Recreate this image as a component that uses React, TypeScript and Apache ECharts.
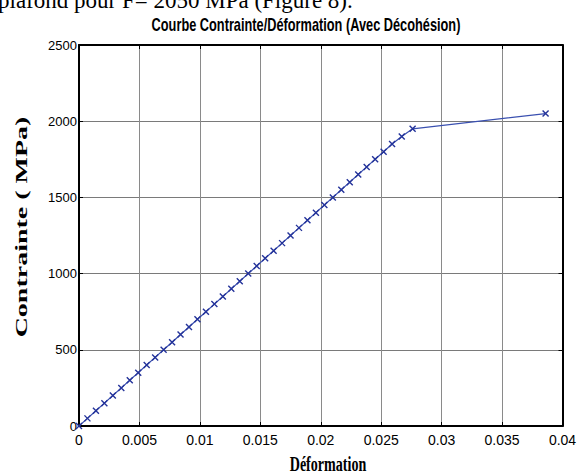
import React, { useEffect, useRef } from "react";
import * as echarts from "echarts";

const strain = [
  0, 0.0007, 0.0014, 0.0021, 0.0028, 0.0035, 0.0042, 0.0049, 0.0056, 0.0063,
  0.007, 0.0077, 0.0084, 0.0091, 0.0098, 0.0105, 0.0112, 0.0119, 0.0126, 0.0133,
  0.014, 0.0147, 0.0154, 0.0161, 0.0168, 0.0175, 0.0182, 0.0189, 0.0196, 0.0203,
  0.021, 0.0217, 0.0224, 0.0231, 0.0238, 0.0245, 0.0252, 0.0259, 0.0267, 0.0276,
  0.0386,
];
const stress = [
  0, 50, 100, 150, 200, 250, 300, 350, 400, 450,
  500, 550, 600, 650, 700, 750, 800, 850, 900, 950,
  1000, 1050, 1100, 1150, 1200, 1250, 1300, 1350, 1400, 1450,
  1500, 1550, 1600, 1650, 1700, 1750, 1800, 1850, 1900, 1950,
  2050,
];

const titleText = "Courbe Contrainte/Déformation (Avec Décohésion)";
const xName = "Déformation";
const yName = "Contrainte ( MPa)";
const pageText = "plafond pour F= 2050 MPa (Figure 8).";

const SANS = "'Liberation Sans', Arial, sans-serif";
const SERIF = "'Liberation Serif', 'Times New Roman', serif";

export default function App() {
  const ref = useRef<HTMLDivElement>(null);
  useEffect(() => {
    if (!ref.current) return;
    const chart = echarts.init(ref.current, null, { renderer: "svg" });
    const data = strain.map((s, i) => [s, stress[i]]);
    const axisCommon = {
      min: 0,
      axisLine: { show: true, onZero: false, lineStyle: { color: "#000", width: 2 } },
      axisTick: { show: true, inside: true, length: 4, lineStyle: { color: "#000", width: 1 } },
    };
    chart.setOption({
      animation: false,
      backgroundColor: "#fff",
      grid: { left: 79, right: 17.5, top: 45, bottom: 49, containLabel: false },
      xAxis: [
        {
          ...axisCommon,
          type: "value",
          position: "bottom",
          max: 0.04,
          interval: 0.005,
          axisLabel: { color: "#000", fontFamily: SANS, fontSize: 14, margin: 7 },
          splitLine: { show: true, lineStyle: { color: "#8a8a8a", width: 1 } },
        },
        {
          ...axisCommon,
          type: "value",
          position: "top",
          max: 0.04,
          interval: 0.005,
          axisLabel: { show: false },
          splitLine: { show: false },
        },
      ],
      yAxis: [
        {
          ...axisCommon,
          type: "value",
          position: "left",
          max: 2500,
          interval: 500,
          axisLabel: {
            color: "#000",
            fontFamily: SANS,
            fontSize: 13,
            margin: 2,
            formatter: (v: number) => String(v),
          },
          splitLine: { show: true, lineStyle: { color: "#7a7a7a", width: 1 } },
        },
        {
          ...axisCommon,
          type: "value",
          position: "right",
          max: 2500,
          interval: 500,
          axisLabel: { show: false },
          splitLine: { show: false },
        },
      ],
      series: [
        {
          type: "line",
          xAxisIndex: 0,
          yAxisIndex: 0,
          data,
          symbol: "path://M0,0L10,10M10,0L0,10",
          symbolSize: 6,
          showSymbol: true,
          lineStyle: { color: "#3a50b0", width: 1.2 },
          itemStyle: { color: "transparent", borderColor: "#24339a", borderWidth: 1.4 },
        },
      ],
      graphic: [
        {
          type: "text",
          x: -2,
          y: 12,
          style: {
            text: pageText,
            font: `23px ${SERIF}`,
            fill: "#000",
            textAlign: "left",
            textVerticalAlign: "bottom",
          },
        },
        {
          type: "text",
          x: 306,
          y: 25,
          scaleX: 0.71,
          style: {
            text: titleText,
            font: `bold 18px ${SANS}`,
            fill: "#000",
            textAlign: "center",
            textVerticalAlign: "middle",
          },
        },
        {
          type: "text",
          x: 328,
          y: 464,
          scaleX: 0.64,
          style: {
            text: xName,
            font: `bold 22px ${SERIF}`,
            fill: "#000",
            textAlign: "center",
            textVerticalAlign: "middle",
          },
        },
        {
          type: "text",
          x: 21,
          y: 227,
          rotation: Math.PI / 2,
          scaleY: 0.63,
          style: {
            text: yName,
            font: `bold 28px ${SERIF}`,
            fill: "#000",
            textAlign: "center",
            textVerticalAlign: "middle",
          },
        },
      ],
    });
    return () => chart.dispose();
  }, []);
  return (
    <div
      ref={ref}
      style={{ position: "fixed", left: 0, top: 0, width: 580, height: 475, background: "#fff" }}
    />
  );
}
